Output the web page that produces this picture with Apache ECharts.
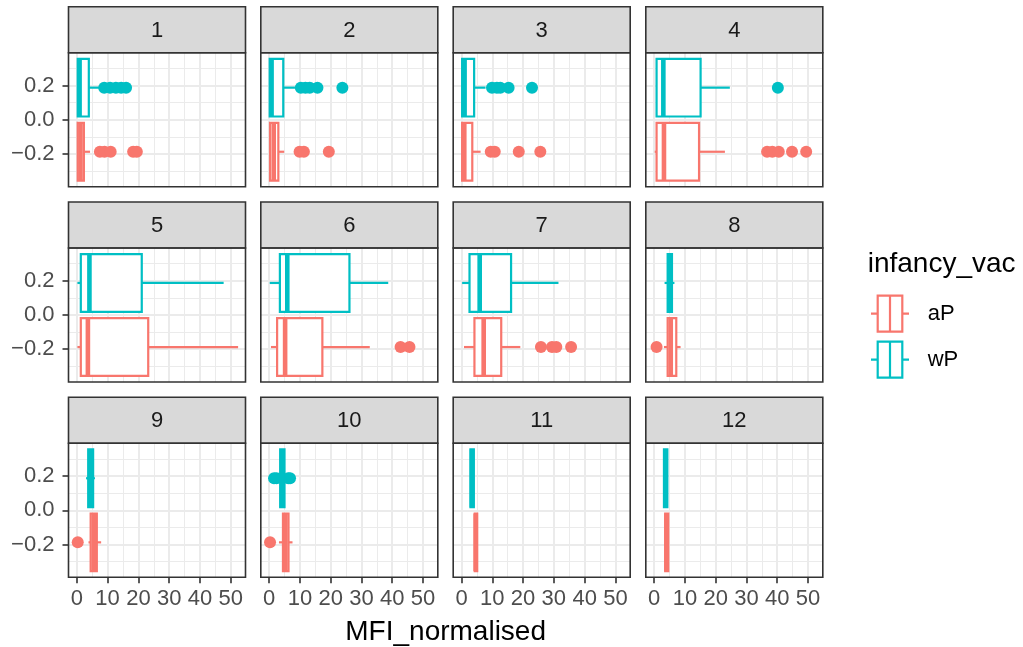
<!DOCTYPE html>
<html>
<head>
<meta charset="utf-8">
<script src="https://cdn.jsdelivr.net/npm/echarts@6/dist/echarts.min.js"></script>
<style>
  html, body { margin: 0; padding: 0; background: #fff; }
  #chart { width: 1023px; height: 647px; }
</style>
</head>
<body>
<div id="chart"></div>
<script>
const panels = ["1", "2", "3", "4", "5", "6", "7", "8", "9", "10", "11", "12"];
const groups = ["aP", "wP"];

// [lower whisker, q1, median, q3, upper whisker] for each panel
const aPStats = [
  [0.2, 0.3, 1.2, 2.3, 4.3],
  [0.1, 0.3, 1.5, 3.0, 4.9],
  [0.1, 0.2, 0.9, 3.5, 6.2],
  [0.2, 0.8, 3.2, 14.6, 23.0],
  [0.2, 1.3, 3.6, 23.2, 52.4],
  [0.6, 2.6, 5.2, 17.3, 32.7],
  [0.8, 4.2, 7.2, 12.9, 19.1],
  [3.2, 4.4, 5.4, 7.2, 8.6],
  [3.8, 4.5, 5.5, 6.5, 7.9],
  [3.2, 4.5, 5.3, 6.3, 7.6],
  [4.3, 4.3, 4.6, 5.1, 5.1],
  [3.6, 3.6, 4.0, 4.6, 4.6]
];
const wPStats = [
  [0.2, 0.3, 0.9, 3.9, 7.6],
  [0.1, 0.2, 0.8, 4.6, 8.4],
  [0.1, 0.2, 1.0, 4.1, 7.8],
  [0.8, 0.8, 3.0, 15.1, 24.6],
  [0.2, 1.3, 4.1, 21.1, 47.7],
  [0.2, 3.5, 5.9, 26.1, 38.7],
  [0.2, 2.6, 5.9, 16.1, 31.5],
  [3.4, 4.4, 5.0, 5.8, 6.6],
  [3.0, 3.7, 4.5, 5.3, 5.9],
  [3.0, 3.6, 4.2, 5.0, 5.6],
  [2.9, 2.9, 3.4, 4.0, 4.0],
  [3.2, 3.2, 3.7, 4.3, 4.3]
];
const aPOutliers = [
  [7.5, 9.0, 11.0, 18.3, 19.5],
  [9.9, 11.3, 19.4],
  [9.5, 10.8, 18.6, 25.6],
  [36.7, 38.4, 40.5, 44.8, 49.4],
  [],
  [42.7, 45.6],
  [25.8, 29.4, 30.8, 35.6],
  [0.8],
  [0.3],
  [0.3],
  [],
  []
];
const wPOutliers = [
  [8.9, 10.8, 12.7, 14.4, 16.0],
  [10.3, 11.8, 13.2, 15.7, 23.8],
  [9.9, 11.5, 12.6, 15.3, 22.9],
  [40.2],
  [],
  [],
  [],
  [],
  [],
  [1.6, 2.4, 6.2, 6.8],
  [],
  []
];
const xTicks = [0, 10, 20, 30, 40, 50];
const yTicks = [-0.2, 0, 0.2];

const stats = { aP: aPStats, wP: wPStats };
const outliers = { aP: aPOutliers, wP: wPOutliers };
const colors = { aP: "#F8766D", wP: "#00BFC4" };
const dodge = { aP: -0.1875, wP: 0.1875 };
const halfBox = 0.16875;
const font = "'Liberation Sans', Arial, sans-serif";

const colLeft = [68.5, 260.8, 453.2, 645.8];
const stripTop = [6.7, 202, 397.3];
const panelW = 177, panelH = 134, stripH = 46;

const chart = echarts.init(document.getElementById("chart"));

function boxRenderer(color) {
  return function (params, api) {
    const yc = api.value(5);
    const lo = api.coord([api.value(0), yc]);
    const q1 = api.coord([api.value(1), yc]);
    const med = api.coord([api.value(2), yc]);
    const q3 = api.coord([api.value(3), yc]);
    const hi = api.coord([api.value(4), yc]);
    const top = api.coord([api.value(1), yc + halfBox])[1];
    const bottom = api.coord([api.value(1), yc - halfBox])[1];
    const line = { stroke: color, lineWidth: 2.2 };
    return {
      type: "group",
      children: [
        { type: "line", shape: { x1: lo[0], y1: lo[1], x2: q1[0], y2: q1[1] }, style: line },
        { type: "line", shape: { x1: q3[0], y1: q3[1], x2: hi[0], y2: hi[1] }, style: line },
        {
          type: "rect",
          shape: { x: q1[0], y: top, width: q3[0] - q1[0], height: bottom - top },
          style: { fill: "#fff", stroke: color, lineWidth: 2.2 }
        },
        { type: "line", shape: { x1: med[0], y1: top, x2: med[0], y2: bottom }, style: { stroke: color, lineWidth: 4.6 } }
      ]
    };
  };
}

const grid = [], xAxis = [], yAxis = [], series = [], graphic = [];

panels.forEach((name, i) => {
  const col = i % 4, row = Math.floor(i / 4);
  const left = colLeft[col];
  const top = stripTop[row] + stripH;
  grid.push({ left: left, top: top, width: panelW, height: panelH, show: true, backgroundColor: "#fff", borderWidth: 0 });

  const bottomRow = row === 2, leftCol = col === 0;
  xAxis.push({
    type: "value",
    gridIndex: i,
    position: "bottom",
    min: -2.7,
    max: 54.8,
    splitNumber: 5,
    axisLine: { show: false, onZero: false },
    axisTick: { show: bottomRow, customValues: xTicks, length: 6, lineStyle: { color: "#333", width: 1.6 } },
    axisLabel: { show: bottomRow, customValues: xTicks, margin: 11, fontSize: 22, color: "#4D4D4D", fontFamily: font },
    splitLine: { show: true, lineStyle: { color: "#EBEBEB", width: 2 } },
    minorTick: { show: false, splitNumber: 2 },
    minorSplitLine: { show: true, lineStyle: { color: "#EBEBEB", width: 1 } }
  });
  yAxis.push({
    type: "value",
    gridIndex: i,
    position: "left",
    min: -0.392,
    max: 0.392,
    splitNumber: 4,
    axisLine: { show: false, onZero: false },
    axisTick: { show: leftCol, customValues: yTicks, length: 6, lineStyle: { color: "#333", width: 1.6 } },
    axisLabel: {
      show: leftCol,
      customValues: yTicks,
      margin: 14,
      fontSize: 22,
      color: "#4D4D4D",
      fontFamily: font,
      formatter: v => (v < 0 ? "\u2212" : "") + Math.abs(v).toFixed(1)
    },
    splitLine: { show: true, lineStyle: { color: "#EBEBEB", width: 2 } },
    minorTick: { show: false, splitNumber: 2 },
    minorSplitLine: { show: true, lineStyle: { color: "#EBEBEB", width: 1 } }
  });

  groups.forEach(g => {
    series.push({
      type: "scatter",
      name: g,
      xAxisIndex: i,
      yAxisIndex: i,
      symbolSize: 12,
      itemStyle: { color: colors[g], opacity: 1 },
      data: outliers[g][i].map(v => [v, dodge[g]]),
      z: 2
    });
    series.push({
      type: "custom",
      name: g,
      xAxisIndex: i,
      yAxisIndex: i,
      renderItem: boxRenderer(colors[g]),
      encode: { x: [0, 1, 2, 3, 4], y: 5 },
      data: [stats[g][i].concat([dodge[g]])],
      z: 3
    });
  });

  // strip and panel border
  graphic.push({
    type: "rect",
    shape: { x: left, y: stripTop[row], width: panelW, height: stripH },
    style: { fill: "#D9D9D9", stroke: "#333", lineWidth: 1.6 },
    z: 50
  });
  graphic.push({
    type: "text",
    x: left + panelW / 2,
    y: stripTop[row] + stripH / 2 + 1,
    style: { text: name, fontSize: 22, fill: "#1A1A1A", fontFamily: font, align: "center", verticalAlign: "middle" },
    z: 51
  });
  graphic.push({
    type: "rect",
    shape: { x: left, y: top, width: panelW, height: panelH },
    style: { fill: "none", stroke: "#333", lineWidth: 1.6 },
    z: 50
  });
});

// axis title
graphic.push({
  type: "text",
  x: (colLeft[0] + colLeft[3] + panelW) / 2,
  y: 632,
  style: { text: "MFI_normalised", fontSize: 28, fill: "#000", fontFamily: font, align: "center", verticalAlign: "middle" }
});

// legend
graphic.push({
  type: "text",
  x: 867.7,
  y: 264,
  style: { text: "infancy_vac", fontSize: 28, fill: "#000", fontFamily: font, align: "left", verticalAlign: "middle" }
});
const keyTop = [295.7, 341.7];
groups.forEach((g, k) => {
  const y0 = keyTop[k], h = 36, yc = y0 + h / 2;
  graphic.push({ type: "line", shape: { x1: 871, y1: yc, x2: 909, y2: yc }, style: { stroke: colors[g], lineWidth: 2.2 } });
  graphic.push({ type: "rect", shape: { x: 877.7, y: y0, width: 24.6, height: h }, style: { fill: "#fff", stroke: colors[g], lineWidth: 2.2 } });
  graphic.push({ type: "line", shape: { x1: 890, y1: y0, x2: 890, y2: y0 + h }, style: { stroke: colors[g], lineWidth: 2.2 } });
  graphic.push({
    type: "text",
    x: 927.7,
    y: yc,
    style: { text: g, fontSize: 22, fill: "#000", fontFamily: font, align: "left", verticalAlign: "middle" }
  });
});

chart.setOption({
  animation: false,
  backgroundColor: "#fff",
  grid: grid,
  xAxis: xAxis,
  yAxis: yAxis,
  series: series,
  graphic: graphic
});

window.addEventListener("resize", () => chart.resize());
</script>
</body>
</html>
